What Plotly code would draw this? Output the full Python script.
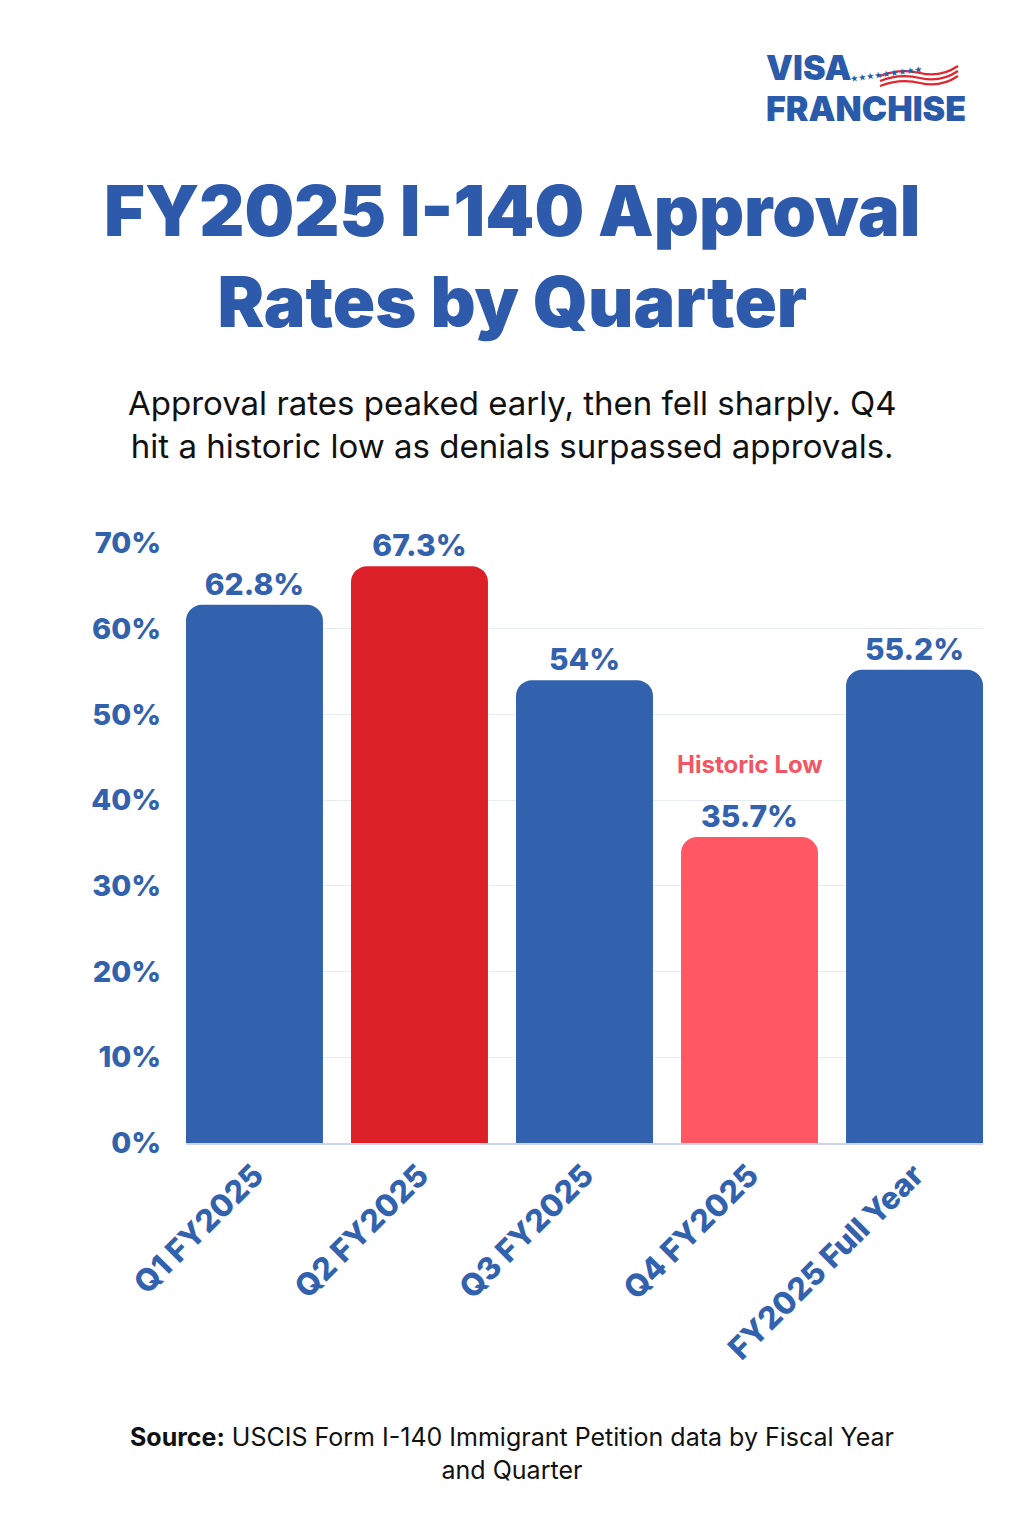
import plotly.graph_objects as go

# data
categories = ['Q1 FY2025', 'Q2 FY2025', 'Q3 FY2025', 'Q4 FY2025', 'FY2025 Full Year']
approval_rate = [62.8, 67.3, 54, 35.7, 55.2]
bar_labels = ['62.8%', '67.3%', '54%', '35.7%', '55.2%']
y_ticks = [0, 10, 20, 30, 40, 50, 60, 70]
y_tick_labels = ['0%', '10%', '20%', '30%', '40%', '50%', '60%', '70%']

BLUE = '#3262AE'
bar_colors = [BLUE, '#DC2028', BLUE, '#FF5864', BLUE]
FONT = 'Inter'

# page is offset by the body margin, so margins are shifted by 8px
OFF = 8
W, H = 1024, 1536
L, R, T, B = 186 - OFF, 41 + OFF, 543 - OFF, 393 + OFF
PW, PH = W - L - R, H - T - B


def px(x, y):
    # page pixel -> paper coords
    return (x - OFF - L) / PW, (H - B - (y - OFF)) / PH


fig = go.Figure()
fig.add_trace(go.Bar(
    x=categories, y=approval_rate,
    marker=dict(color=bar_colors, cornerradius=16, line_width=0),
    text=bar_labels, textposition='outside', cliponaxis=False,
    textfont=dict(family=FONT, size=30, color=BLUE, weight=800),
    hoverinfo='skip'))

# "Historic Low" note above the Q4 bar
fig.add_annotation(x=categories[3], y=approval_rate[3], yshift=73,
                   text='Historic Low', showarrow=False, yanchor='middle',
                   font=dict(family=FONT, size=24, color='#F25563', weight=700))

# title, subtitle, source
fig.add_annotation(x=px(512, 0)[0], y=px(0, 256)[1], xref='paper', yref='paper',
                   text='FY2025 I-140 Approval<br>Rates by Quarter', showarrow=False,
                   font=dict(family=FONT, size=70, color='#2E5AAC', weight=900),
                   align='center', yanchor='middle')
fig.add_annotation(x=px(512, 0)[0], y=px(0, 425)[1], xref='paper', yref='paper',
                   text='Approval rates peaked early, then fell sharply. Q4<br>hit a historic low as denials surpassed approvals.',
                   showarrow=False, align='center', yanchor='middle',
                   font=dict(family=FONT, size=33, color='#111111'))
fig.add_annotation(x=px(512, 0)[0], y=px(0, 1453)[1], xref='paper', yref='paper',
                   text='<b>Source:</b> USCIS Form I-140 Immigrant Petition data by Fiscal Year<br>and Quarter',
                   showarrow=False, align='center', yanchor='middle',
                   font=dict(family=FONT, size=25, color='#111111'))

# logo
fig.add_annotation(x=px(764, 0)[0], y=px(0, 67)[1], xref='paper', yref='paper',
                   text='VISA', showarrow=False, xanchor='left', yanchor='middle',
                   font=dict(family=FONT, size=34, color='#2A5BAA', weight=900))
fig.add_annotation(x=px(764, 0)[0], y=px(0, 109)[1], xref='paper', yref='paper',
                   text='FRANCHISE', showarrow=False, xanchor='left', yanchor='middle',
                   font=dict(family=FONT, size=34, color='#2A5BAA', weight=900))
fig.add_annotation(x=px(926, 0)[0], y=px(0, 62)[1], xref='paper', yref='paper',
                   text='★★★★★★★★★', showarrow=False, textangle=-8,
                   font=dict(family='DejaVu Sans', size=9, color='#2A5BAA'))
for dy in (0, 5, 10):
    fig.add_shape(type='path', xref='paper', yref='paper',
                  path='M {} {} Q {} {} {} {} T {} {}'.format(
                      *px(880, 76 + dy), *px(900, 68 + dy), *px(920, 73 + dy), *px(958, 66 + dy)),
                  line=dict(color='#E0262E', width=2.2))

fig.update_layout(
    width=W, height=H,
    margin=dict(l=L, r=R, t=T, b=B),
    paper_bgcolor='white', plot_bgcolor='white',
    showlegend=False, bargap=0.17,
    font=dict(family=FONT),
)
fig.update_xaxes(range=[-0.415, 4.415], tickangle=-45, showgrid=False,
                 showline=True, linecolor='#CBD4E8', linewidth=1.5, ticks='',
                 tickfont=dict(family=FONT, size=31, color=BLUE, weight=800))
fig.update_yaxes(range=[0, 70], tickvals=y_ticks, ticktext=y_tick_labels,
                 showgrid=True, gridcolor='#E6ECF5', gridwidth=1, zeroline=False,
                 ticks='outside', ticklen=18, tickcolor='white',
                 tickfont=dict(family=FONT, size=29, color=BLUE, weight=800))

fig.write_html('out.html')
